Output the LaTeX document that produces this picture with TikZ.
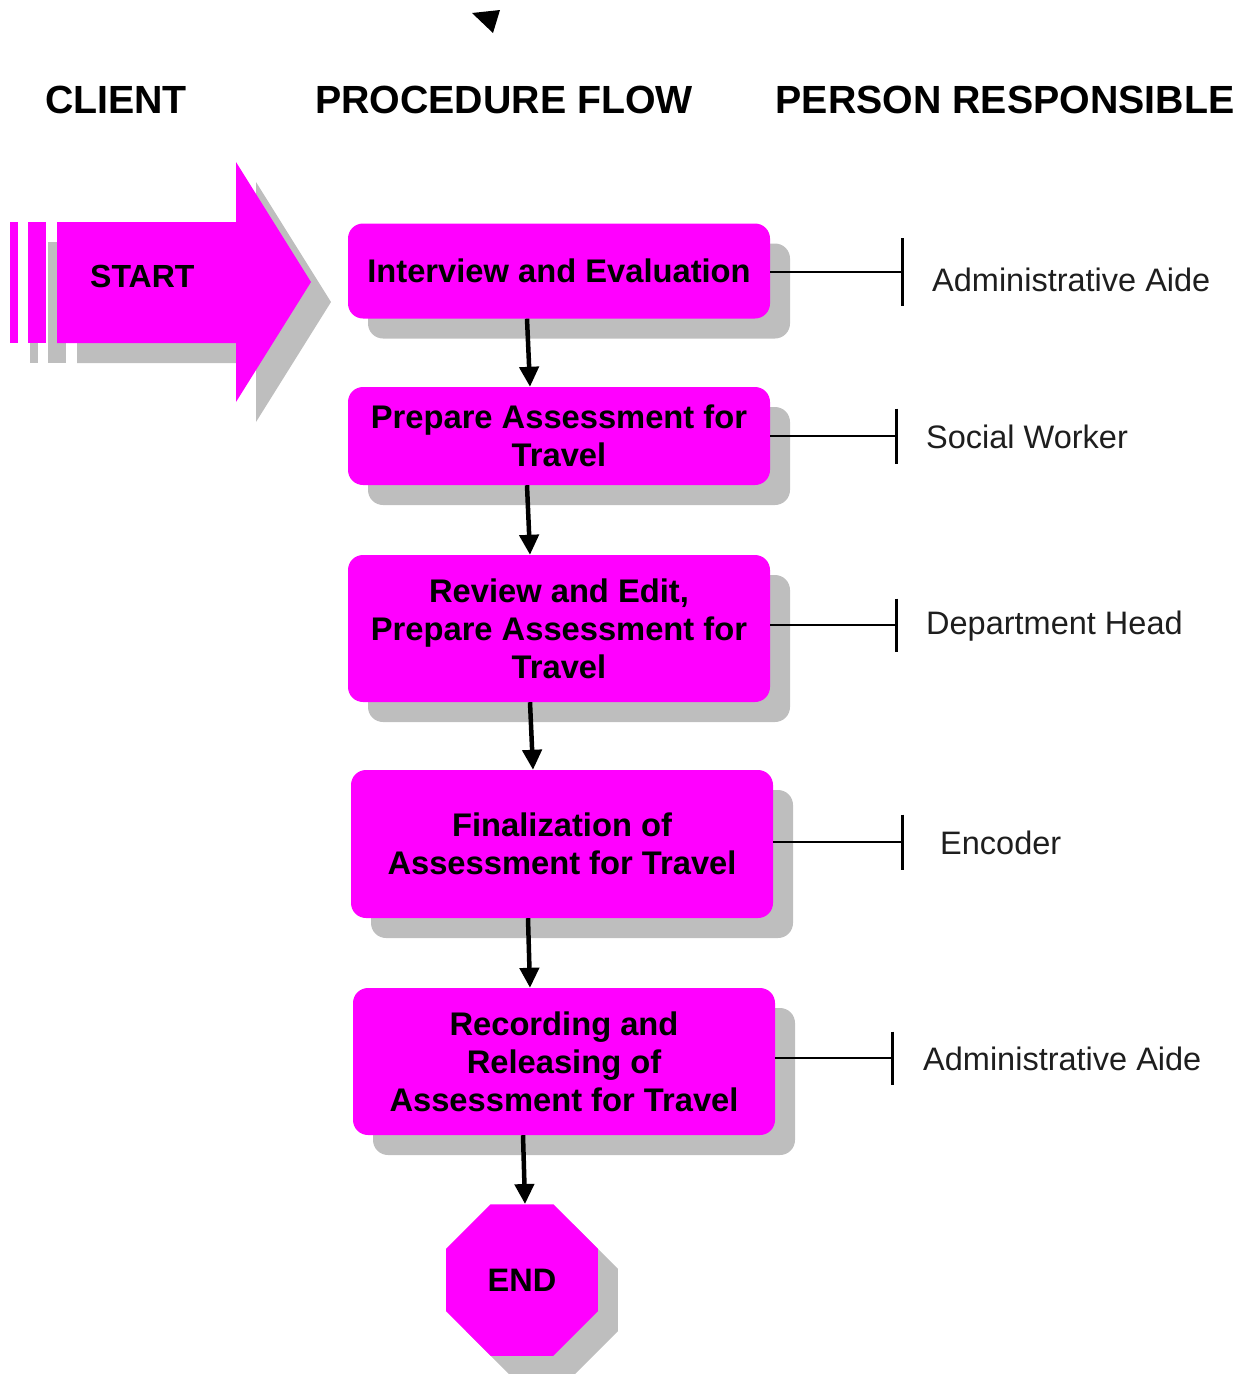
\documentclass[tikz,border=0pt]{standalone}
\usepackage{fontspec}
\setmainfont{Liberation Sans}
\usetikzlibrary{arrows.meta,shapes.geometric,shadows}
\definecolor{boxfill}{HTML}{FF00FF}
\definecolor{shgray}{HTML}{BEBEBE}
\definecolor{labelink}{HTML}{1E1E1E}
\tikzset{
  shadowed/.style={drop shadow={shadow xshift=20pt,shadow yshift=-20pt,opacity=1,fill=shgray}},
  stepbox/.style={shadowed,fill=boxfill,rounded corners=15pt,inner sep=0pt,
    minimum width=422pt,align=center,
    font=\fontsize{32.7}{38}\selectfont\bfseries},
  endbox/.style={shadowed,fill=boxfill,regular polygon,regular polygon sides=8,
    minimum size=164pt,inner sep=0pt,font=\fontsize{32.5}{38}\selectfont\bfseries},
  header/.style={anchor=base,inner sep=0pt,font=\fontsize{39.3}{44}\selectfont\bfseries},
  person/.style={anchor=base west,inner sep=0pt,text=labelink,font=\fontsize{32.5}{38}\selectfont},
  flow/.style={line width=4.5pt,-{Triangle[width=19pt,length=20pt]}},
  tie/.style={line width=2.5pt}
}
\begin{document}
\begin{tikzpicture}[x=1pt,y=-1pt]
\useasboundingbox (0,0) rectangle (1252,1374);

% small marker at the top
\fill[black] (472,13) -- (500,10) -- (493,33) -- cycle;

% column headings
\node[header] (hclient) at (116,113) {CLIENT};
\node[header] (hflow) at (504,113) {PROCEDURE FLOW};
\node[header] (hperson) at (1005,113) {PERSON RESPONSIBLE};

% start arrow: shadow first, then the arrow itself
\begin{scope}[shift={(20,20)},fill=shgray]
  \fill (10,222) rectangle (18,343);
  \fill (28,222) rectangle (46,343);
  \fill (57,222) -- (236,222) -- (236,162) -- (311,282) -- (236,402) -- (236,343) -- (57,343) -- cycle;
\end{scope}
\begin{scope}[fill=boxfill]
  \fill (10,222) rectangle (18,343);
  \fill (28,222) rectangle (46,343);
  \fill (57,222) -- (236,222) -- (236,162) -- (311,282) -- (236,402) -- (236,343) -- (57,343) -- cycle;
\end{scope}
\node[anchor=base west,inner sep=0pt,font=\fontsize{32}{38}\selectfont\bfseries] (start) at (90,287) {START};

% procedure steps
\node[stepbox,minimum height=95pt] (b1) at (559,271) {Interview and Evaluation};
\node[stepbox,minimum height=98pt] (b2) at (559,436) {Prepare Assessment for\\Travel};
\node[stepbox,minimum height=147pt] (b3) at (559,628.5) {Review and Edit,\\Prepare Assessment for\\Travel};
\node[stepbox,minimum height=148pt] (b4) at (562,844) {Finalization of\\Assessment for Travel};
\node[stepbox,minimum height=147pt] (b5) at (564,1061.5) {Recording and\\Releasing of\\Assessment for Travel};
\node[endbox] (end) at (522,1280) {END};

% flow arrows
\draw[flow] ([xshift=-32pt]b1.south) -- ([xshift=-29pt]b2.north);
\draw[flow] ([xshift=-32pt]b2.south) -- ([xshift=-29pt]b3.north);
\draw[flow] ([xshift=-29pt]b3.south) -- ([xshift=-29pt]b4.north);
\draw[flow] ([xshift=-34pt]b4.south) -- ([xshift=-34pt]b5.north);
\draw[flow] ([xshift=-41pt]b5.south) -- ([xshift=3pt]end.north);

% responsibility ties
\coordinate (t1) at (904,272);
\coordinate (t2) at (898,436);
\coordinate (t3) at (898,625);
\coordinate (t4) at (904,842);
\coordinate (t5) at (894,1058);
\draw[tie,-{Bar[width=68pt,line width=3pt]}] (b1.east |- t1) -- (t1);
\draw[tie,-{Bar[width=55pt,line width=3pt]}] (b2.east |- t2) -- (t2);
\draw[tie,-{Bar[width=53pt,line width=3pt]}] (b3.east |- t3) -- (t3);
\draw[tie,-{Bar[width=55pt,line width=3pt]}] (b4.east |- t4) -- (t4);
\draw[tie,-{Bar[width=53pt,line width=3pt]}] (b5.east |- t5) -- (t5);

% persons responsible
\node[person] (p1) at (932,291) {Administrative Aide};
\node[person] (p2) at (926,448) {Social Worker};
\node[person] (p3) at (926,634) {Department Head};
\node[person] (p4) at (940,854) {Encoder};
\node[person] (p5) at (923,1070) {Administrative Aide};
\end{tikzpicture}
\end{document}
